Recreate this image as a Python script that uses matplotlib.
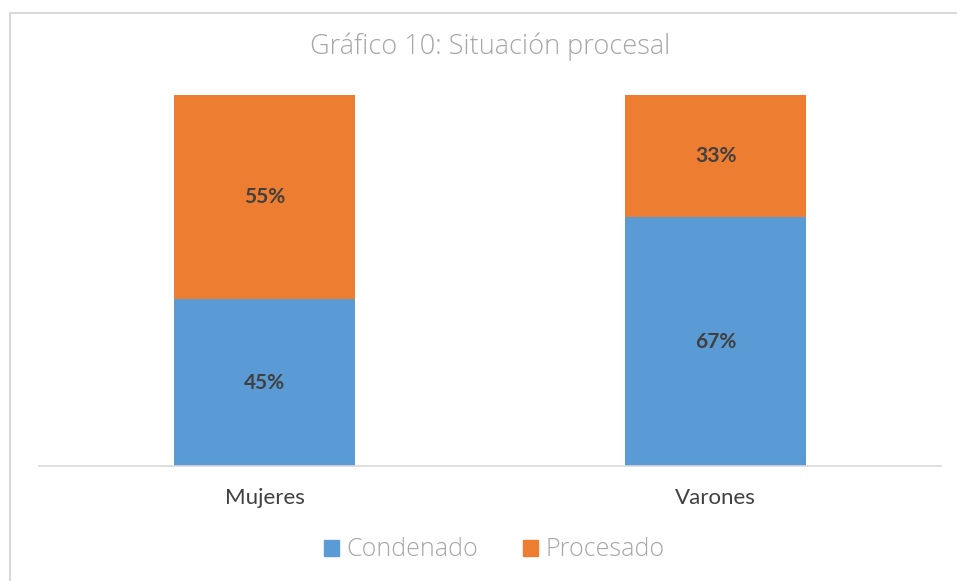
import numpy as np
import matplotlib.pyplot as plt
from matplotlib.lines import Line2D
from matplotlib.patches import Patch

# data
categorias = ["Mujeres", "Varones"]
condenado = [45, 67]
procesado = [55, 33]
series = ["Condenado", "Procesado"]
colores = ["#5B9BD5", "#ED7D31"]

W, H = 957, 581
fig = plt.figure(figsize=(W / 100, H / 100), dpi=100)
ax = fig.add_axes([39 / W, 1 - 466 / H, (941 - 39) / W, (466 - 95) / H])

x = np.arange(len(categorias))
ax.bar(x, condenado, width=0.4, color=colores[0])
ax.bar(x, procesado, width=0.4, bottom=condenado, color=colores[1])

for i in range(len(categorias)):
    ax.text(x[i], condenado[i] / 2, f"{condenado[i]}%", ha="center", va="center",
            fontsize=15, fontweight="bold", color="#404040", family="Lato")
    ax.text(x[i], condenado[i] + procesado[i] / 2, f"{procesado[i]}%", ha="center",
            va="center", fontsize=15, fontweight="bold", color="#404040", family="Lato")

ax.set_xlim(-0.5, 1.5)
ax.set_ylim(0, 100)
ax.set_yticks([])
ax.set_xticks(x)
ax.set_xticklabels(categorias, fontsize=16, color="#404040", family="Lato")
ax.tick_params(axis="x", length=0, pad=16)
for s in ["top", "right", "left"]:
    ax.spines[s].set_visible(False)
ax.spines["bottom"].set_color("#d9d9d9")
ax.spines["bottom"].set_linewidth(1.2)

fig.text(490 / W, 1 - 47 / H, "Gráfico 10: Situación procesal", ha="center", va="center",
         fontsize=19.5, color="#a6a6a6", family="Open Sans", fontweight="light")

handles = [Patch(color=c) for c in colores]
fig.legend(handles, series, loc="center", bbox_to_anchor=(494 / W, 1 - 550 / H), ncol=2,
           frameon=False, handlelength=0.6, handleheight=0.6, handletextpad=0.3,
           columnspacing=1.8, prop={"family": "Open Sans", "size": 18, "weight": "light"},
           labelcolor="#a6a6a6")

# chart border (cropped on the right and bottom)
fig.add_artist(Line2D([10 / W, 1], [1 - 13 / H, 1 - 13 / H], color="#d9d9d9", lw=1.5))
fig.add_artist(Line2D([10 / W, 10 / W], [0, 1 - 13 / H], color="#d9d9d9", lw=1.5))

fig.savefig("out.png", dpi=100)
